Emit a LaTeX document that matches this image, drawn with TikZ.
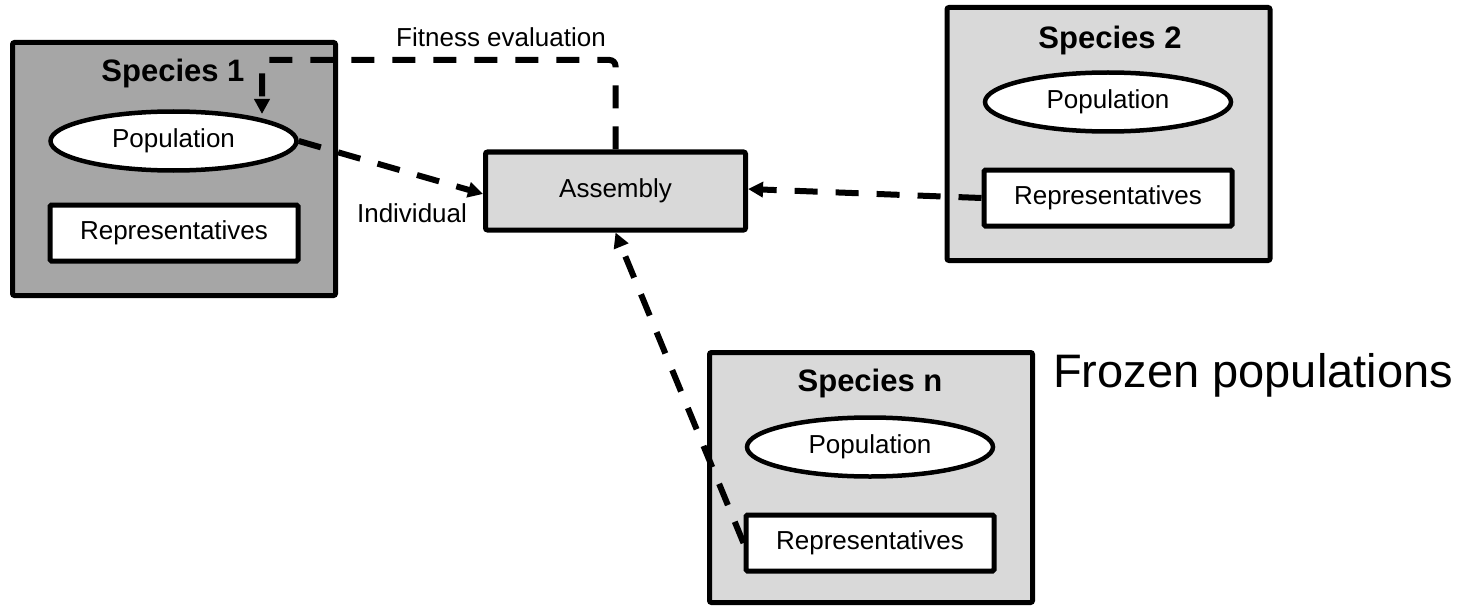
\documentclass[tikz,border=0pt]{standalone}
\usepackage{fontspec}
\setmainfont{Liberation Sans}
\usetikzlibrary{shapes.geometric,arrows.meta}
\definecolor{darkfill}{HTML}{A6A6A6}
\definecolor{lightfill}{HTML}{D9D9D9}
\begin{document}
\begin{tikzpicture}[x=1pt,y=-1pt,
  txt/.style={font=\fontsize{26}{31}\selectfont, inner sep=0pt},
  speciesbox/.style={draw, line width=5pt, rounded corners=2pt, inner sep=0pt,
    minimum width=323pt, minimum height=253pt},
  title/.style={font=\fontsize{31}{36}\selectfont\bfseries, inner sep=0pt},
  popnode/.style={ellipse, draw, fill=white, line width=4.5pt, inner sep=0pt,
    minimum width=246pt, minimum height=59pt, txt},
  repnode/.style={draw, fill=white, line width=5pt, rounded corners=1.5pt, inner sep=0pt,
    minimum width=248pt, minimum height=56pt, txt},
  conn/.style={line width=6pt, dash pattern=on 23pt off 18pt,
    -{Triangle[length=15pt,width=15pt]}}]
\useasboundingbox (0,0) rectangle (1464,607);

% Species 1 (active)
\node[speciesbox, fill=darkfill] (sp1) at (174,169) {};
\node[title] (sp1t) at (173,73) {Species 1};
\node[popnode] (pop1) at (173.5,141) {Population};
\node[repnode] (rep1) at (174,233) {Representatives};

% Species 2
\node[speciesbox, fill=lightfill] (sp2) at (1108.5,134) {};
\node[title] (sp2t) at (1110,40) {Species 2};
\node[popnode] (pop2) at (1108,102) {Population};
\node[repnode] (rep2) at (1108,198) {Representatives};

% Species n
\node[speciesbox, fill=lightfill, minimum height=250pt] (spn) at (871,477.5) {};
\node[title] (spnt) at (870,383) {Species n};
\node[popnode] (popn) at (870,447) {Population};
\node[repnode] (repn) at (870,543) {Representatives};

% Assembly
\node[draw, fill=lightfill, line width=5pt, rounded corners=2pt, inner sep=0pt,
  minimum width=260pt, minimum height=78pt, txt] (asm) at (615.5,191) {Assembly};

% Labels
\node[txt, anchor=base] (fitlbl) at (501,47) {Fitness evaluation};
\node[txt, anchor=base] (indlbl) at (412,222) {Individual};
\node[font=\fontsize{47}{56}\selectfont, inner sep=0pt, anchor=base west] (frozen) at (1053,387) {Frozen populations};

% Connectors
\coordinate (fitdrop) at (262,114);
\draw[conn, rounded corners=6pt] (asm.north) |- (262,60) -- (fitdrop);
\draw[conn] (pop1.east) -- ([yshift=-3pt]asm.west);
\draw[conn] (rep2.west) -- ([yshift=2pt]asm.east);
\draw[conn] (repn.west) -- (asm.south);
\end{tikzpicture}
\end{document}
